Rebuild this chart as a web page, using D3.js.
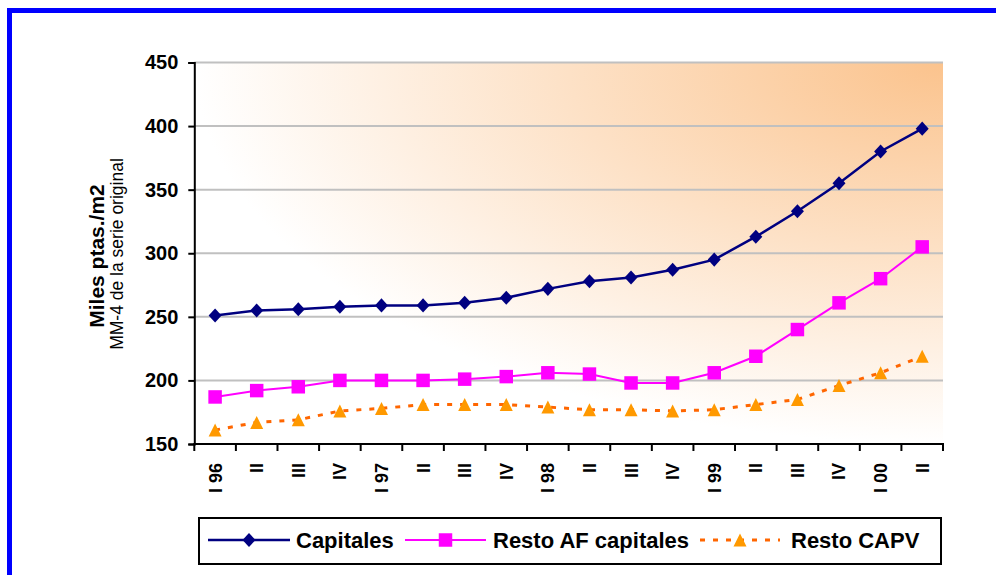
<!DOCTYPE html>
<html>
<head>
<meta charset="utf-8">
<script src="https://cdn.jsdelivr.net/npm/d3@7"></script>
<style>
  html, body { margin: 0; padding: 0; background: #ffffff; }
  svg { display: block; }
  text { font-family: "Liberation Sans", Arial, Helvetica, sans-serif; }
</style>
</head>
<body>
<svg id="chart" width="996" height="575"></svg>
<script>
// Quarterly price series (thousand pesetas per m2, 4-quarter moving average)
const quarters = ["I 96", "II", "III", "IV", "I 97", "II", "III", "IV", "I 98", "II", "III", "IV", "I 99", "II", "III", "IV", "I 00", "II"];
const capitales = [251, 255, 256, 258, 259, 259, 261, 265, 272, 278, 281, 287, 295, 313, 333, 355, 380, 398];
const restoAF = [187, 192, 195, 200, 200, 200, 201, 203, 206, 205, 198, 198, 206, 219, 240, 261, 280, 305];
const restoCAPV = [161, 167, 169, 176, 178, 181, 181, 181, 179, 177, 177, 176, 177, 181, 185, 196, 206, 219];
const yTicks = [150, 200, 250, 300, 350, 400, 450];
const seriesNames = ["Capitales", "Resto AF capitales", "Resto CAPV"];

const svg = d3.select("#chart");
const plot = { left: 194.3, right: 943, top: 62.5, bottom: 444 };

// Outer blue frame (continues past the right and bottom edges)
svg.append("rect")
  .attr("x", 9.5).attr("y", 10.5)
  .attr("width", 1300).attr("height", 900)
  .attr("fill", "none").attr("stroke", "#0000ff").attr("stroke-width", 5);

// Plot background: shading radiating from the top-right corner
const defs = svg.append("defs");
const grad = defs.append("radialGradient")
  .attr("id", "bgShade")
  .attr("cx", 1).attr("cy", 0).attr("r", 1).attr("fx", 1).attr("fy", 0);
grad.append("stop").attr("offset", 0).attr("stop-color", "#fbc38d");
grad.append("stop").attr("offset", 1).attr("stop-color", "#ffffff");

svg.append("rect")
  .attr("x", plot.left).attr("y", plot.top)
  .attr("width", plot.right - plot.left).attr("height", plot.bottom - plot.top)
  .attr("fill", "url(#bgShade)");

const x = d3.scaleBand().domain(d3.range(quarters.length)).range([plot.left, plot.right]);
const y = d3.scaleLinear().domain([150, 450]).range([plot.bottom, plot.top]);
const cx = i => x(i) + x.bandwidth() / 2;

// Horizontal gridlines
svg.append("g").selectAll("line")
  .data(yTicks.filter(v => v > 150))
  .join("line")
  .attr("x1", plot.left).attr("x2", plot.right)
  .attr("y1", d => y(d)).attr("y2", d => y(d))
  .attr("stroke", "#c0c0c0").attr("stroke-width", 2);

// Y axis
const yAxis = svg.append("g")
  .attr("transform", `translate(${plot.left},0)`)
  .call(d3.axisLeft(y).tickValues(yTicks).tickSize(6).tickPadding(10).tickFormat(d3.format("d")));
yAxis.select(".domain").attr("stroke", "#000").attr("stroke-width", 2);
yAxis.selectAll(".tick line").attr("stroke", "#000").attr("stroke-width", 2);
yAxis.selectAll(".tick text")
  .attr("font-size", 20).attr("font-weight", "bold").attr("fill", "#000")
  .attr("font-family", "'Liberation Sans', Arial, sans-serif");

// X axis: labels at quarter centres, ticks at quarter boundaries
const xAxis = svg.append("g")
  .attr("transform", `translate(0,${plot.bottom})`)
  .call(d3.axisBottom(x).tickSize(0).tickFormat(i => quarters[i]));
xAxis.select(".domain").remove();
xAxis.selectAll(".tick text")
  .attr("font-size", 18).attr("font-weight", "bold").attr("fill", "#000")
  .attr("font-family", "'Liberation Sans', Arial, sans-serif")
  .attr("text-anchor", "end")
  .attr("transform", "rotate(-90)")
  .attr("x", -19).attr("y", 0).attr("dy", "0.36em");

svg.append("line")
  .attr("x1", plot.left - 1).attr("x2", plot.right + 1)
  .attr("y1", plot.bottom).attr("y2", plot.bottom)
  .attr("stroke", "#000").attr("stroke-width", 2);
const bounds = d3.range(quarters.length).map(i => x(i)).concat([x.range()[1]]);
svg.append("g").selectAll("line")
  .data(bounds)
  .join("line")
  .attr("x1", d => d).attr("x2", d => d)
  .attr("y1", plot.bottom).attr("y2", plot.bottom + 7)
  .attr("stroke", "#000").attr("stroke-width", 2);

// Axis titles
svg.append("text")
  .attr("transform", "translate(104,256) rotate(-90)")
  .attr("text-anchor", "middle")
  .attr("font-size", 21).attr("font-weight", "bold").attr("fill", "#000")
  .text("Miles ptas./m2");
svg.append("text")
  .attr("transform", "translate(123,254) rotate(-90)")
  .attr("text-anchor", "middle")
  .attr("font-size", 17.5).attr("fill", "#000")
  .text("MM-4 de la serie original");

// Marker shapes
const diamond = {
  draw(ctx, size) {
    const w = Math.sqrt(size) / 2, h = w * 1.08;
    ctx.moveTo(0, -h); ctx.lineTo(w, 0); ctx.lineTo(0, h); ctx.lineTo(-w, 0); ctx.closePath();
  }
};
const square = {
  draw(ctx, size) {
    const s = Math.sqrt(size) / 2;
    ctx.rect(-s, -s, 2 * s, 2 * s);
  }
};
const triangle = {
  draw(ctx, size) {
    const s = Math.sqrt(size) / 2;
    ctx.moveTo(0, -s); ctx.lineTo(s, s); ctx.lineTo(-s, s); ctx.closePath();
  }
};

const series = [
  { name: seriesNames[0], values: capitales, line: "#000080", width: 2.5, dash: null, mark: "#000080", shape: diamond, size: 169 },
  { name: seriesNames[1], values: restoAF, line: "#ff00ff", width: 2, dash: null, mark: "#ff00ff", shape: square, size: 182 },
  { name: seriesNames[2], values: restoCAPV, line: "#ff6600", width: 3, dash: "5,8", mark: "#ff9900", shape: triangle, size: 169 }
];

const lineGen = d3.line().x((d, i) => cx(i)).y(d => y(d));

series.forEach(s => {
  svg.append("path")
    .datum(s.values)
    .attr("d", lineGen)
    .attr("fill", "none")
    .attr("stroke", s.line)
    .attr("stroke-width", s.width)
    .attr("stroke-dasharray", s.dash);
  svg.append("g").selectAll("path")
    .data(s.values)
    .join("path")
    .attr("transform", (d, i) => `translate(${cx(i)},${y(d)})`)
    .attr("d", d3.symbol().type(s.shape).size(s.size))
    .attr("fill", s.mark);
});

// Legend
const legend = svg.append("g");
legend.append("rect")
  .attr("x", 199).attr("y", 518).attr("width", 742).attr("height", 46)
  .attr("fill", "#fff").attr("stroke", "#000").attr("stroke-width", 2);
const legendPos = [
  { x0: 208, x1: 290, tx: 296 },
  { x0: 405, x1: 486, tx: 493 },
  { x0: 700, x1: 780, tx: 791 }
];
const ly = 540;
series.forEach((s, k) => {
  const p = legendPos[k];
  legend.append("line")
    .attr("x1", p.x0).attr("x2", p.x1).attr("y1", ly).attr("y2", ly)
    .attr("stroke", s.line).attr("stroke-width", s.width)
    .attr("stroke-dasharray", s.dash);
  legend.append("path")
    .attr("transform", `translate(${(p.x0 + p.x1) / 2},${ly})`)
    .attr("d", d3.symbol().type(s.shape).size(s.size))
    .attr("fill", s.mark);
  legend.append("text")
    .attr("x", p.tx).attr("y", ly + 8)
    .attr("font-size", 22).attr("font-weight", "bold").attr("fill", "#000")
    .text(s.name);
});
</script>
</body>
</html>
